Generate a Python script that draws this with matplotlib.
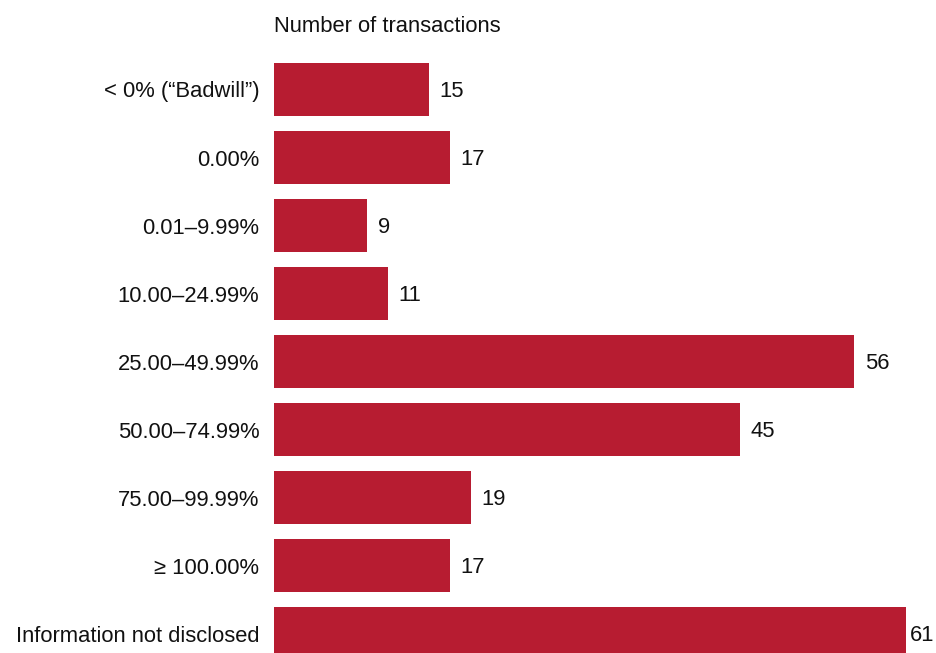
import matplotlib
matplotlib.use("Agg")
import matplotlib.pyplot as plt

categories = [
    "< 0% (\u201cBadwill\u201d)",
    "0.00%",
    "0.01\u20139.99%",
    "10.00\u201324.99%",
    "25.00\u201349.99%",
    "50.00\u201374.99%",
    "75.00\u201399.99%",
    "\u2265 100.00%",
    "Information not disclosed",
]
transactions = [15, 17, 9, 11, 56, 45, 19, 17, 61]

BAR_COLOR = "#B71C31"
FONT = "Liberation Sans"
FS = 15.8

W, H = 936, 653
fig = plt.figure(figsize=(W / 100, H / 100), dpi=100)
left_px = 274
ax = fig.add_axes([left_px / W, 0, (W - left_px) / W, 1])

ypos = list(range(len(categories)))
bars = ax.barh(ypos, transactions, height=0.77, color=BAR_COLOR)

px_per_unit = 10.36
ax.set_xlim(0, (W - left_px) / px_per_unit)
row_px = 68.0
first_center_px = 89.5
ax.set_ylim((H - first_center_px) / row_px, -first_center_px / row_px)

ax.set_yticks(ypos)
ax.set_yticklabels(categories, fontfamily=FONT, fontsize=FS, color="#111111")
ax.tick_params(axis="y", length=0, pad=10.5)
ax.set_xticks([])
for s in ax.spines.values():
    s.set_visible(False)

# The longest bar reaches close to the right edge, so its label sits a bit tighter.
vmax = max(transactions)
for rect, v in zip(bars, transactions):
    dx = 3.0 if v == vmax else 7.5
    ax.annotate(str(v), xy=(rect.get_width(), rect.get_y() + rect.get_height() / 2),
                xytext=(dx, -1.5), textcoords="offset points",
                ha="left", va="center", fontfamily=FONT, fontsize=FS, color="#111111")

fig.text(left_px / W, 1 - 26 / H, "Number of transactions", ha="left", va="center",
         fontfamily=FONT, fontsize=FS, color="#111111")

fig.savefig("out.png", dpi=100)
